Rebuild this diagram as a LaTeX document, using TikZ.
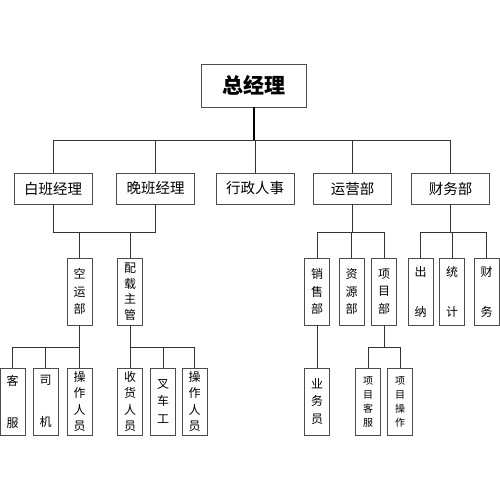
\documentclass[tikz,border=0pt]{standalone}
\usepackage{fontspec}
\newfontfamily\cjk{Noto Sans CJK SC}
\usetikzlibrary{calc}

\begin{document}
\begin{tikzpicture}[x=1pt,y=-1pt,
    link/.style={draw=black!80, line width=0.9pt},
    chief/.style={draw=black!70, line width=0.9pt, minimum width=105pt, minimum height=43pt, inner sep=0pt, font=\cjk\bfseries\fontsize{21}{21}\selectfont},
    unit/.style={draw=black!70, line width=0.9pt, minimum width=78pt, minimum height=31pt, inner sep=0pt, font=\cjk\fontsize{14.5}{14.5}\selectfont},
    post/.style={draw=black!70, line width=0.9pt, minimum width=25pt, minimum height=67pt, inner sep=0pt, align=center, font=\cjk\fontsize{12}{#1}\selectfont},
    post/.default=17.5,
    small/.style={font=\cjk\fontsize{10}{14}\selectfont}]
    \useasboundingbox (0,0) rectangle (500,500);

    % top
    \node[chief] (gm) at (253.5,85.5) {总经理};

    % second level
    \node[unit] (day)   at (53,188.5)    {白班经理};
    \node[unit] (night) at (155.5,188.5) {晚班经理};
    \node[unit] (admin) at (255,188.5)   {行政人事};
    \node[unit] (ops)   at (352.5,188.5) {运营部};
    \node[unit] (fin)   at (450.5,188.5) {财务部};

    % third level
    \node[post]       (air)   at (79.5,291.5)  {空\\运\\部};
    \node[post=15.5]  (load)  at (130,291.5)   {配\\载\\主\\管};
    \node[post]       (sales) at (317,291.5)   {销\\售\\部};
    \node[post]       (res)   at (351.5,291.5) {资\\源\\部};
    \node[post]       (proj)  at (384,291.5)   {项\\目\\部};
    \node[post=40]    (cash)  at (420.5,291.5) {出\\纳};
    \node[post=40]    (stat)  at (452,291.5)   {统\\计};
    \node[post=40]    (acct)  at (486.5,291.5) {财\\务};

    % fourth level
    \node[post=42]   (cs)     at (12.5,401.5)  {客\\服};
    \node[post=42]   (driver) at (45.5,401.5)  {司\\机};
    \node[post=16.5] (opa)    at (79.5,401.5)  {操\\作\\人\\员};
    \node[post=16.5] (recv)   at (130,401.5)   {收\\货\\人\\员};
    \node[post]      (fork)   at (163,401.5)   {叉\\车\\工};
    \node[post=16.5] (opb)    at (194.5,401.5) {操\\作\\人\\员};
    \node[post]      (biz)    at (317,401.5)   {业\\务\\员};
    \node[post,small] (pcs)   at (368,401.5)   {项\\目\\客\\服};
    \node[post,small] (pop)   at (400,401.5)   {项\\目\\操\\作};

    % bus lines
    \coordinate (bus1) at (0,140);
    \coordinate (bus2) at (0,232);
    \coordinate (bus3) at (0,347);

    \draw[link, line width=2pt, draw=black] (gm.south) -- (bus1 -| gm.south);
    \draw[link] (day.north) |- (bus1 -| fin.north) -- (fin.north);
    \foreach \n in {night,admin,ops}
        \draw[link] (\n.north) -- (bus1 -| \n.north);

    \draw[link] (day.south) |- (bus2 -| night.south) -- (night.south);
    \foreach \n in {air,load}
        \draw[link] (\n.north) -- (bus2 -| \n.north);

    \draw[link] (ops.south) -- (bus2 -| ops.south);
    \draw[link] (sales.north) |- (bus2 -| proj.north) -- (proj.north);
    \draw[link] (res.north) -- (bus2 -| res.north);

    \draw[link] (fin.south) -- (bus2 -| fin.south);
    \draw[link] (cash.north) |- (bus2 -| acct.north) -- (acct.north);
    \draw[link] (stat.north) -- (bus2 -| stat.north);

    \draw[link] (air.south) -- (bus3 -| air.south);
    \draw[link] (cs.north) |- (bus3 -| opa.north) -- (opa.north);
    \draw[link] (driver.north) -- (bus3 -| driver.north);

    \draw[link] (load.south) -- (bus3 -| load.south);
    \draw[link] (recv.north) |- (bus3 -| opb.north) -- (opb.north);
    \draw[link] (fork.north) -- (bus3 -| fork.north);

    \draw[link] (sales.south) -- (biz.north);
    \draw[link] (proj.south) -- (bus3 -| proj.south);
    \draw[link] (pcs.north) |- (bus3 -| pop.north) -- (pop.north);
\end{tikzpicture}
\end{document}
